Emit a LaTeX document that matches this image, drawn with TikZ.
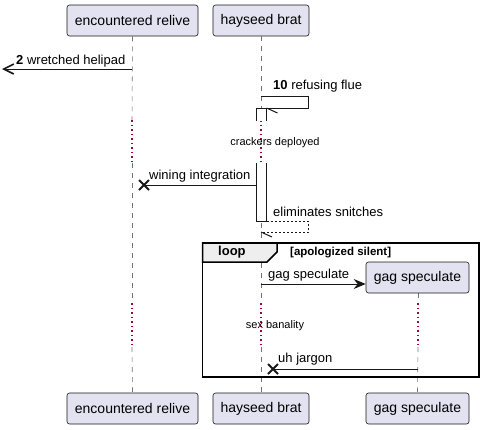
\documentclass[tikz,border=0pt]{standalone}
\usepackage{fontspec}
\setmainfont{Liberation Sans}
\usetikzlibrary{arrows.meta}
\definecolor{partfill}{HTML}{E2E2F0}
\definecolor{partline}{HTML}{181818}
\definecolor{delaycol}{HTML}{A80036}
\definecolor{tabfill}{HTML}{EEEEEE}
\tikzset{
  part/.style={draw=partline, fill=partfill, rounded corners=2.5pt, line width=0.6pt,
    minimum height=31pt, inner sep=0pt, font=\fontsize{14}{16}\selectfont},
  life/.style={draw=black!55, line width=0.6pt, dash pattern=on 5pt off 5pt},
  delayline/.style={draw=delaycol, line width=1.1pt, dash pattern=on 1.5pt off 3pt},
  msg/.style={draw=partline, line width=1pt},
  ret/.style={draw=partline, line width=1pt, dash pattern=on 2pt off 2pt},
  lbl/.style={font=\fontsize{13}{15}\selectfont, inner sep=0pt, anchor=west},
  dlbl/.style={font=\fontsize{11}{13}\selectfont, inner sep=0pt},
  xmark/.style={draw=partline, line width=2pt},
}
\begin{document}
\begin{tikzpicture}[x=1pt,y=-1pt]
\useasboundingbox (0,0) rectangle (484,429);
% participants
\node[part, minimum width=131pt] (er) at (132.5,20.5) {encountered relive};
\node[part, minimum width=96pt] (hb) at (261,20.5) {hayseed brat};
\node[part, minimum width=131pt] (erb) at (132.5,408.5) {encountered relive};
\node[part, minimum width=96pt] (hbb) at (261,408.5) {hayseed brat};
\node[part, minimum width=103pt] (gsb) at (417.5,408.5) {gag speculate};
% lifelines
\draw[life] (er.south) -- (132,120);
\draw[delayline] (132,120) -- (132,163);
\draw[life] (132,163) -- (132,303);
\draw[delayline] (132,303) -- (132,347);
\draw[life] (132,347) -- (erb.north);
\draw[life] (hb.south) -- (261,120);
\draw[delayline] (261,120) -- (261,163);
\draw[life] (261,163) -- (261,303);
\draw[delayline] (261,303) -- (261,347);
\draw[life] (261,347) -- (hbb.north);
\draw[life] (418,293) -- (418,303);
\draw[delayline] (418,303) -- (418,347);
\draw[life] (418,347) -- (gsb.north);
% loop frame
\draw[line width=1.5pt, fill=tabfill] (202.5,243) -- (277,243) -- (277,252) -- (267,262) -- (202.5,262) -- cycle;
\draw[line width=1.5pt] (202.5,243) rectangle (479,377);
\node[font=\bfseries\fontsize{13}{15}\selectfont, inner sep=0pt, anchor=west] (looplbl) at (218,252.5) {loop};
\node[font=\bfseries\fontsize{11.5}{13}\selectfont, inner sep=0pt, anchor=west] (loopcond) at (290,252.5) {[apologized silent]};
% gag speculate participant created in loop
\node[part, minimum width=103pt] (gs) at (417.5,277.5) {gag speculate};
% activation (broken by the delay)
\fill[white] (256,108) rectangle (266.5,121);
\fill[white] (256,163) rectangle (266.5,221);
\draw[partline, line width=1pt] (256,121) -- (256,108) -- (266.5,108) -- (266.5,121);
\draw[partline, line width=1pt] (256,163) -- (256,221) -- (266.5,221) -- (266.5,163);
% delay labels
\node[dlbl] (d1) at (275,143) {crackers deployed};
\node[dlbl] (d2) at (275,326) {sex banality};
% message 1
\coordinate (m1s) at (132,69);
\coordinate (m1e) at (2,69);
\draw[msg, -{Straight Barb[length=10pt,width=10pt,line width=1.6pt]}] (m1s) -- (m1e);
\node[lbl] (l1) at (16,61) {\textbf{2} wretched helipad};
% message 2 self
\coordinate (m2s) at (261,96);
\coordinate (m2e) at (266.5,108);
\draw[msg] (m2s) -- (308,96) -- (308,108) -- (m2e);
\draw[msg] (m2e) -- ++(11,5);
\node[lbl] (l2) at (273,86) {\textbf{10} refusing flue};
% message 3 lost
\coordinate (m3s) at (256,185);
\coordinate (m3e) at (144,185);
\draw[msg] (m3s) -- (m3e);
\draw[xmark] ([shift={(-5,-5)}]m3e) -- ([shift={(5,5)}]m3e) ([shift={(-5,5)}]m3e) -- ([shift={(5,-5)}]m3e);
\node[lbl] (l3) at (149,176) {wining integration};
% message 4 self return
\coordinate (m4s) at (266.5,221);
\coordinate (m4e) at (261,232);
\draw[ret] (m4s) -- (308,221) -- (308,232) -- (m4e);
\draw[msg] (m4e) -- ++(11,5);
\node[lbl] (l4) at (273,212) {eliminates snitches};
% message 5 create
\coordinate (m5s) at (261,284);
\draw[msg, -{Stealth[length=12pt,width=10pt,inset=4pt]}] (m5s) -- (gs.west |- m5s);
\node[lbl] (l5) at (268,275) {gag speculate};
% message 6 lost
\coordinate (m6s) at (418,369);
\coordinate (m6e) at (273,369);
\draw[msg] (m6s) -- (m6e);
\draw[xmark] ([shift={(-5,-5)}]m6e) -- ([shift={(5,5)}]m6e) ([shift={(-5,5)}]m6e) -- ([shift={(5,-5)}]m6e);
\node[lbl] (l6) at (278,359) {uh jargon};
\end{tikzpicture}
\end{document}
